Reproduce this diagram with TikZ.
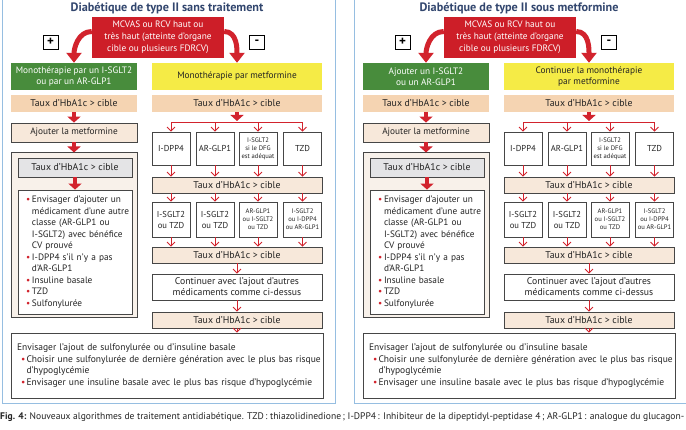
\documentclass[tikz,border=0pt]{standalone}
\usepackage{fontspec}
\setmainfont{PT Sans}
\usetikzlibrary{arrows.meta}
\definecolor{panelblue}{RGB}{150,190,225}
\definecolor{titleblue}{RGB}{50,70,110}
\definecolor{redfill}{RGB}{205,30,40}
\definecolor{arrowred}{RGB}{210,35,45}
\definecolor{greenfill}{RGB}{72,140,60}
\definecolor{yellowfill}{RGB}{245,235,70}
\definecolor{peach}{RGB}{245,212,178}
\definecolor{lpeach}{RGB}{247,232,218}
\definecolor{outerfill}{RGB}{248,241,234}
\definecolor{grayfill}{RGB}{228,228,230}
\definecolor{bordergray}{RGB}{70,70,70}
\definecolor{textdark}{RGB}{35,35,35}
\newcommand\taux{{\fontsize{9.8}{11}\selectfont Taux d’HbA1c > cible}}
\newcommand\bul{\hspace*{7pt}\makebox[6pt][l]{\textcolor{arrowred}{•}}}
\newcommand\ind{\hspace*{13pt}}
\newcommand\bulb{\hspace*{8pt}\makebox[5.5pt][l]{\textcolor{arrowred}{•}}}
\newcommand\indb{\hspace*{13.5pt}}
\tikzset{
  x=1pt, y=-1pt,
  sz/.style 2 args={minimum width=#1pt, minimum height=#2pt},
  base/.style={inner sep=0pt, align=center, text=textdark, font=\fontsize{9.3}{11}\selectfont},
  bx/.style={base, draw=bordergray, line width=0.8pt, fill=white},
  midbx/.style={bx, font=\fontsize{8.6}{11}\selectfont},
  smallbx/.style={bx, font=\fontsize{6.6}{8}\selectfont},
  panelframe/.style={draw=panelblue, line width=1pt, fill=white, inner sep=0pt},
  titletext/.style={inner sep=0pt, text=titleblue, font=\fontsize{12.2}{13}\selectfont\bfseries},
  redbox/.style={base, fill=redfill, text=white, font=\fontsize{9.3}{12}\selectfont},
  signbox/.style={base, draw=black, line width=0.8pt, fill=white, text=black, font=\fontsize{13}{13}\selectfont\bfseries},
  greenbox/.style={base, fill=greenfill, text=white},
  yellowbox/.style={base, fill=yellowfill},
  peachbox/.style={base, fill=peach},
  lpeachbox/.style={bx, fill=lpeach},
  outerbox/.style={bx, fill=outerfill, line width=1pt},
  graybox/.style={bx, fill=grayfill},
  curvearrow/.style={draw=arrowred, line width=5pt, -{Triangle[width=15pt,length=10pt]}},
  blockarrow/.style={draw=arrowred, line width=4pt, -{Triangle[width=13pt,length=6pt]}},
  thinarrow/.style={draw=arrowred, line width=0.8pt, -{Straight Barb[length=4pt,width=8pt,line width=0.8pt]}},
  redline/.style={draw=arrowred, line width=0.8pt},
}
\newcommand\panel[5]{%
\begin{scope}[xshift=#2]
\node[panelframe, sz={333}{409}] (#1frame) at (168.5,199.5) {};
\node[titletext] (#1title) at (167,8) {#3};
\node[redbox, sz={132}{41}] (#1red) at (158,37.5) {MCVAS ou RCV haut ou\\très haut (atteinte d’organe\\cible ou plusieurs FDRCV)};
\node[signbox, sz={15}{14}] (#1plus) at (50.5,42) {+};
\node[signbox, sz={15}{14}] (#1minus) at (257,42) {-};
\node[greenbox, sz={126}{27}] (#1green) at (74,76.5) {#4};
\node[yellowbox, sz={170}{27}] (#1yellow) at (237,76.5) {#5};
\node[peachbox, sz={126}{17}] (#1tauxA) at (74,103.5) {\taux};
\node[peachbox, sz={170}{17}] (#1tauxB) at (237,103.5) {\taux};
\node[lpeachbox, sz={126}{19}] (#1ajout) at (74,132.5) {Ajouter la metformine};
\node[outerbox, sz={126}{165}] (#1outer) at (74,235.5) {};
\node[graybox, sz={114}{19}] (#1tauxG) at (75,167.5) {\taux};
\node[bx, sz={114}{124}, text width=112pt, inner xsep=1pt, align=left, font=\fontsize{9.3}{11.5}\selectfont] (#1list) at (75,252) {%
\bul Envisager d’ajouter un\\
\ind médicament d’une autre\\
\ind classe (AR-GLP1 ou\\
\ind I-SGLT2) avec bénéfice\\
\ind CV prouvé\\
\bul I-DPP4 s’il n’y a pas\\
\ind d’AR-GLP1\\
\bul Insuline basale\\
\bul TZD\\
\bul Sulfonylurée};
\node[midbx, sz={38}{33}] (#1ra) at (171,148.5) {I-DPP4};
\node[midbx, sz={38}{33}] (#1rb) at (215,148.5) {AR-GLP1};
\node[smallbx, sz={38}{33}] (#1rc) at (258,148.5) {I-SGLT2\\si le DFG\\est adéquat};
\node[midbx, sz={38}{33}] (#1rd) at (302.5,148.5) {TZD};
\node[lpeachbox, sz={170}{16}] (#1tauxC) at (237,185) {\taux};
\node[midbx, sz={38}{35}] (#1sa) at (171,219.5) {I-SGLT2\\ou TZD};
\node[midbx, sz={38}{35}] (#1sb) at (215,219.5) {I-SGLT2\\ou TZD};
\node[smallbx, sz={38}{35}] (#1sc) at (258,219.5) {AR-GLP1\\ou I-SGLT2\\ou TZD};
\node[smallbx, sz={38}{35}] (#1sd) at (302.5,219.5) {I-SGLT2\\ou I-DPP4\\ou AR-GLP1};
\node[lpeachbox, sz={170}{16}] (#1tauxD) at (237,255) {\taux};
\node[bx, sz={170}{26}, font=\fontsize{9.7}{11}\selectfont] (#1cont) at (237,287) {Continuer avec l’ajout d’autres\\médicaments comme ci-dessus};
\node[lpeachbox, sz={170}{16}] (#1tauxE) at (237,320) {\taux};
\node[bx, sz={312}{65}, text width=308pt, inner xsep=2pt, align=left, font=\fontsize{9.5}{11.7}\selectfont] (#1final) at (167,365.5) {%
\hspace*{4pt}Envisager l’ajout de sulfonylurée ou d’insuline basale\\
\bulb Choisir une sulfonylurée de dernière génération avec le plus bas risque\\
\indb d’hypoglycémie\\
\bulb Envisager une insuline basale avec le plus bas risque d’hypoglycémie};
\draw[curvearrow] ([yshift=6pt]#1red.west) to[out=180,in=90] (#1green.north);
\draw[curvearrow] ([yshift=6pt]#1red.east) to[out=0,in=90] (#1yellow.north);
\draw[blockarrow] (#1tauxA.south) -- (#1ajout.north);
\draw[blockarrow] (#1ajout.south) -- (#1outer.north);
\draw[blockarrow] (#1tauxG.south) -- (#1list.north);
\coordinate (#1br) at (237,121);
\coordinate (#1bl) at (171,122.5);
\coordinate (#1brr) at (302.5,122.5);
\draw[blockarrow] (#1tauxB.south) -- (#1br);
\draw[redline] (#1bl) -- (#1brr);
\foreach \n in {ra,rb,rc,rd}{
  \draw[thinarrow] (#1\n.north |- #1bl) -- (#1\n.north);
  \draw[thinarrow] (#1\n.south) -- (#1\n.south |- #1tauxC.north);
}
\foreach \n in {sa,sb,sc,sd}{
  \draw[thinarrow] (#1\n.north |- #1tauxC.south) -- (#1\n.north);
  \draw[thinarrow] (#1\n.south) -- (#1\n.south |- #1tauxD.north);
}
\draw[thinarrow] (#1tauxD.south) -- (#1cont.north);
\draw[thinarrow] (#1cont.south) -- (#1tauxE.north);
\draw[thinarrow] (#1tauxE.south) -- (#1tauxE.south |- #1final.north);
\end{scope}}
\begin{document}
\begin{tikzpicture}
\useasboundingbox[fill=white] (0,0) rectangle (686,430);
\panel{L}{0pt}{Diabétique de type II sans traitement}{Monothérapie par un I-SGLT2\\ou par un AR-GLP1}{Monothérapie par metformine}
\panel{R}{352pt}{Diabétique de type II sous metformine}{Ajouter un I-SGLT2\\ou un AR-GLP1}{Continuer la monothérapie\\par metformine}
\node[anchor=west, inner sep=0pt, text=textdark, font=\fontsize{8.3}{10}\selectfont] (cap) at (0,417) {\resizebox{684pt}{!}{\textbf{Fig. 4:} Nouveaux algorithmes de traitement antidiabétique. TZD\,: thiazolidinedione\,; I-DPP4\,: Inhibiteur de la dipeptidyl-peptidase 4\,; AR-GLP1\,: analogue du glucagon-}};
\end{tikzpicture}
\end{document}
